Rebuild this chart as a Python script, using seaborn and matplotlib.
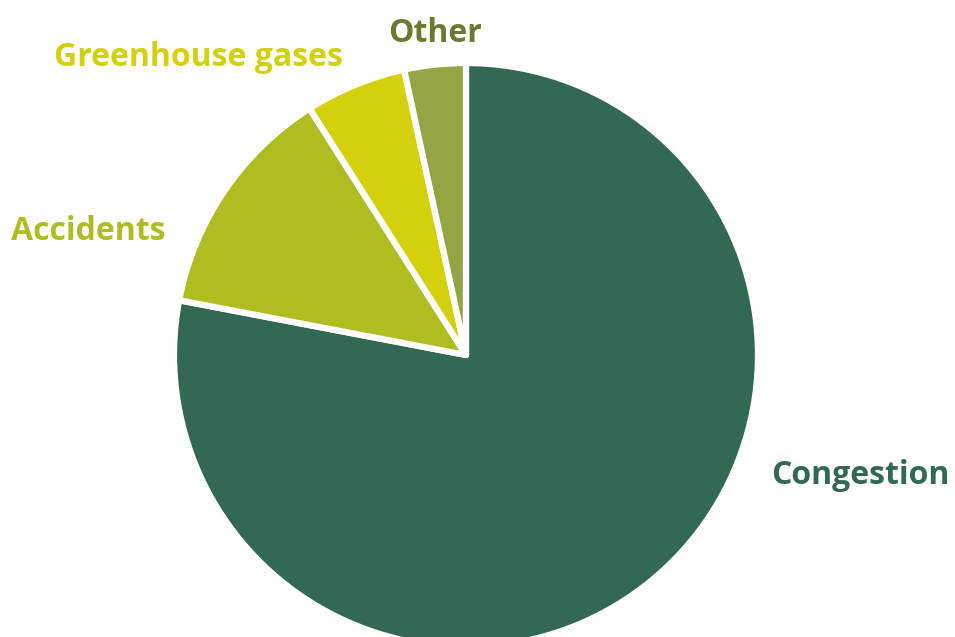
import matplotlib
matplotlib.use("Agg")
import matplotlib.pyplot as plt
import seaborn as sns

# share of external costs of road transport (%)
categories = ["Congestion", "Accidents", "Greenhouse gases", "Other"]
shares = [78.0, 13.0, 5.6, 3.4]
slice_colors = ["#336852", "#afbd22", "#d4d00e", "#93a545"]
label_colors = ["#336852", "#afbd22", "#d4d00e", "#6b7a30"]

sns.set_theme(style="white")
plt.rcParams["font.family"] = ["Open Sans", "DejaVu Sans"]

fig = plt.figure(figsize=(9.55, 6.37), dpi=100)
ax = fig.add_axes([0, 0, 1, 1])

ax.pie(shares, colors=slice_colors, startangle=90, counterclock=False,
       center=(466, 282), radius=292,
       wedgeprops=dict(edgecolor="white", linewidth=4.5, joinstyle="round"))

# label placement in pixel space of the figure
label_pos = {"Congestion": (860, 162), "Accidents": (88, 406),
             "Greenhouse gases": (198, 579), "Other": (435, 604)}
for name, col in zip(categories, label_colors):
    x, y = label_pos[name]
    ax.text(x, y, name, color=col, fontsize=23, fontweight="bold",
            ha="center", va="center")

ax.set_xlim(0, 955)
ax.set_ylim(0, 637)
ax.set_aspect("equal")
ax.axis("off")

fig.savefig("out.png", dpi=100)
